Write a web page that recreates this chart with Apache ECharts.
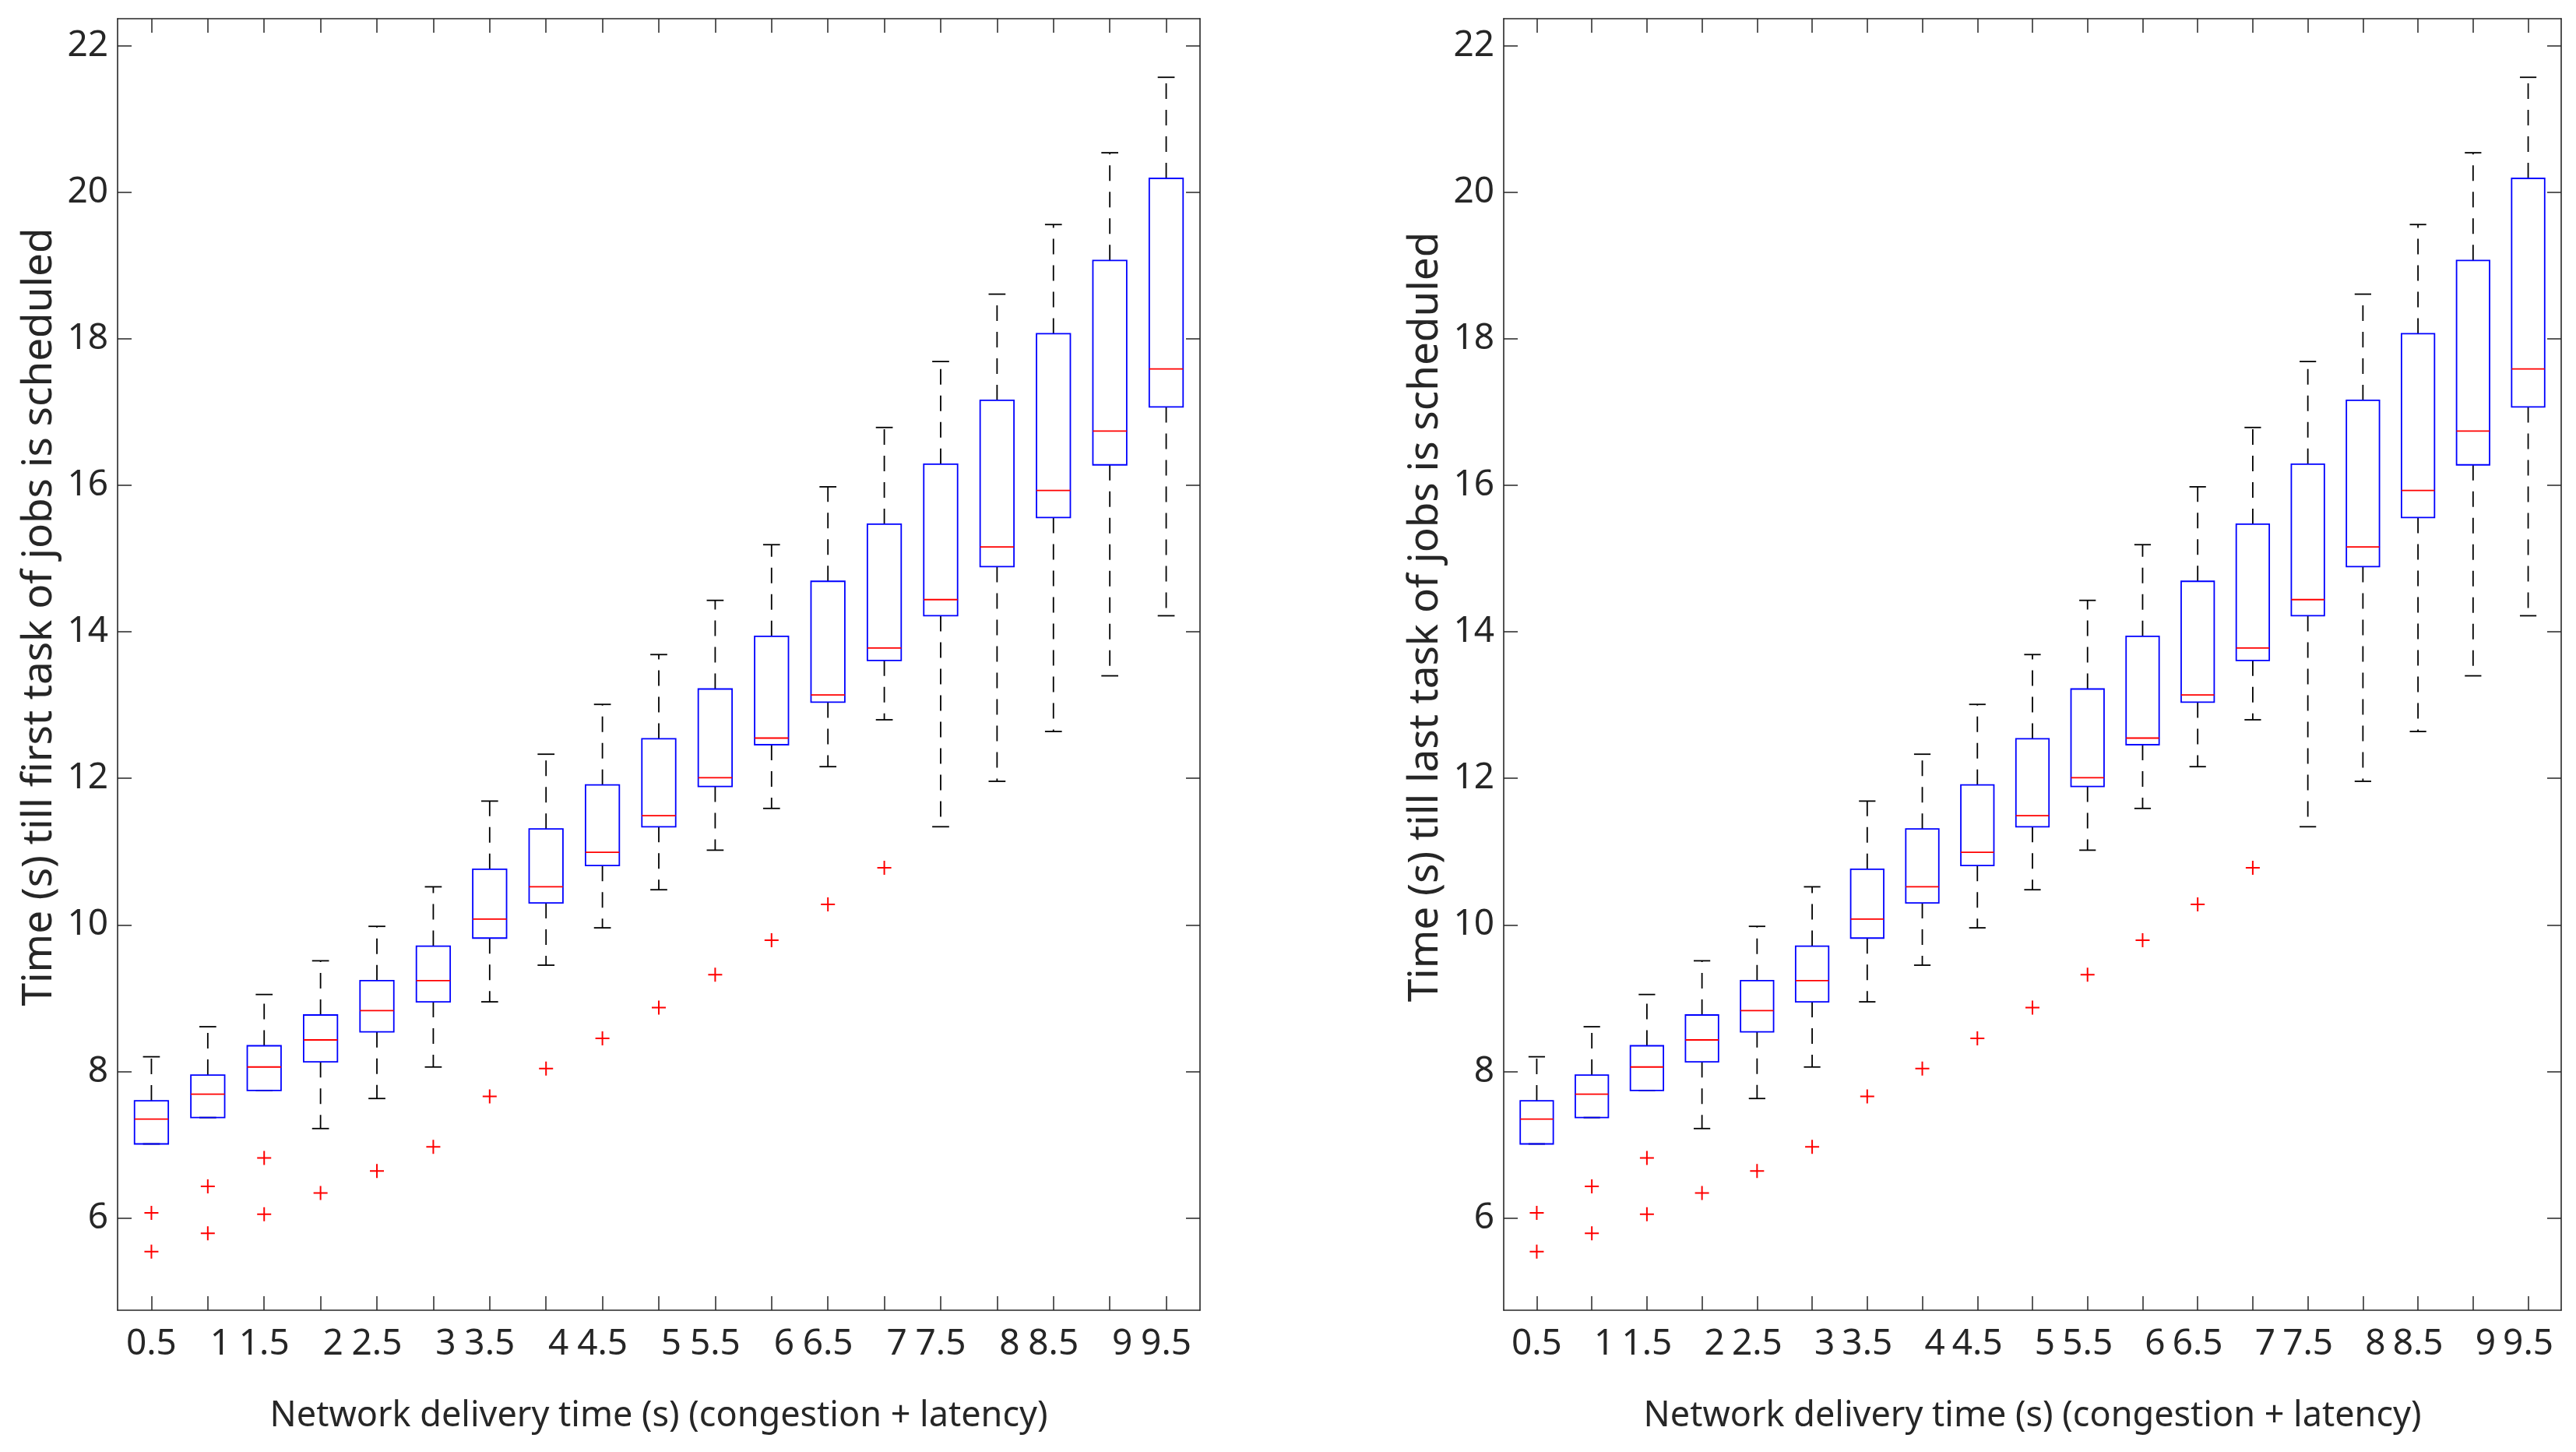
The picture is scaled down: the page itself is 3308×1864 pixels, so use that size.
<!DOCTYPE html>
<html>
<head>
<meta charset="utf-8">
<script src="https://cdn.jsdelivr.net/npm/echarts@6/dist/echarts.min.js"></script>
<style>
html,body{margin:0;padding:0;background:#fff;}
#chart{width:3308px;height:1864px;}
</style>
</head>
<body>
<div id="chart"></div>
<script>
// ---- data ----
const positions = [0.5,1,1.5,2,2.5,3,3.5,4,4.5,5,5.5,6,6.5,7,7.5,8,8.5,9,9.5];
const xLabels = ['0.5','1','1.5','2','2.5','3','3.5','4','4.5','5','5.5','6','6.5','7','7.5','8','8.5','9','9.5'];
const yTicks = [6,8,10,12,14,16,18,20,22];
const lowerWhisker = [7.01,7.37,7.74,7.22,7.63,8.06,8.95,9.45,9.96,10.48,11.02,11.59,12.16,12.80,11.34,11.96,12.64,13.40,14.22];
const q1 = [7.01,7.37,7.74,8.13,8.54,8.95,9.82,10.30,10.81,11.34,11.89,12.46,13.04,13.61,14.22,14.89,15.56,16.28,17.07];
const medians = [7.35,7.69,8.06,8.43,8.83,9.24,10.08,10.52,10.99,11.49,12.01,12.55,13.14,13.78,14.44,15.16,15.93,16.74,17.59];
const q3 = [7.60,7.95,8.35,8.77,9.24,9.71,10.76,11.31,11.91,12.54,13.22,13.94,14.69,15.47,16.29,17.16,18.07,19.07,20.19];
const upperWhisker = [8.20,8.61,9.05,9.51,9.98,10.52,11.69,12.33,13.01,13.69,14.43,15.19,15.98,16.79,17.69,18.61,19.56,20.54,21.57];
const outlierX = [0.5,0.5,1,1,1.5,1.5,2,2.5,3,3.5,4,4.5,5,5.5,6,6.5,7];
const outlierY = [6.07,5.54,6.43,5.79,6.82,6.05,6.34,6.64,6.97,7.66,8.04,8.45,8.87,9.32,9.79,10.28,10.78];
const yTitles = ['Time (s) till first task of jobs is scheduled','Time (s) till last task of jobs is scheduled'];
const xTitle = 'Network delivery time (s) (congestion + latency)';

// ---- build ----
const AX = '#262626';
const FONT = 'Noto Sans';
const boxData = positions.map((p,i)=>[p, lowerWhisker[i], q1[i], medians[i], q3[i], upperWhisker[i]]);
const outData = outlierX.map((x,i)=>[x, outlierY[i]]);

function renderBox(params, api){
  const x = api.value(0);
  const lw = api.value(1), a = api.value(2), m = api.value(3), b = api.value(4), uw = api.value(5);
  const boxW = api.size([0.3, 0])[0];
  const capW = boxW/2;
  const pLW = api.coord([x, lw]), pA = api.coord([x, a]), pM = api.coord([x, m]), pB = api.coord([x, b]), pUW = api.coord([x, uw]);
  const cx = pA[0];
  const children = [];
  const dash = {stroke:'#000', lineWidth:1.8, lineDash:[20,14]};
  const solid = {stroke:'#000', lineWidth:1.8};
  if (pLW[1] - pA[1] > 0.5) children.push({type:'line', shape:{x1:cx,y1:pA[1],x2:cx,y2:pLW[1]}, style:dash});
  children.push({type:'line', shape:{x1:cx,y1:pB[1],x2:cx,y2:pUW[1]}, style:dash});
  children.push({type:'line', shape:{x1:cx-capW/2,y1:pLW[1],x2:cx+capW/2,y2:pLW[1]}, style:solid});
  children.push({type:'line', shape:{x1:cx-capW/2,y1:pUW[1],x2:cx+capW/2,y2:pUW[1]}, style:solid});
  children.push({type:'rect', shape:{x:cx-boxW/2, y:pB[1], width:boxW, height:pA[1]-pB[1]}, style:{fill:'none', stroke:'#0000ff', lineWidth:1.8}});
  children.push({type:'line', shape:{x1:cx-boxW/2,y1:pM[1],x2:cx+boxW/2,y2:pM[1]}, style:{stroke:'#ff0000', lineWidth:1.8}});
  return {type:'group', children};
}

const grids = [
  {left:151, right:1767, top:24, bottom:182},
  {left:1931, right:19, top:24, bottom:182}
];
const xAxes = [], yAxes = [], series = [];
grids.forEach((g, gi)=>{
  xAxes.push({
    type:'value', gridIndex:gi, position:'bottom', min:0.2, max:9.8,
    axisLine:{show:true, onZero:false, lineStyle:{color:AX, width:1.6}},
    axisTick:{show:true, inside:true, length:18, customValues:positions, lineStyle:{color:AX, width:1.5}},
    axisLabel:{show:true, customValues:positions, margin:21, color:AX, fontFamily:FONT, fontSize:46,
      formatter:(v)=>{ const i = positions.indexOf(v); const s = i>=0 ? xLabels[i] : ''; return s.indexOf('.')<0 ? '{i|'+s+'}' : s; },
      rich:{i:{fontFamily:FONT, fontSize:46, color:AX, padding:[0,0,0,32]}}},
    splitLine:{show:false},
    name:xTitle, nameLocation:'middle', nameGap:114,
    nameTextStyle:{color:AX, fontFamily:FONT, fontSize:45}
  });
  xAxes.push({
    type:'value', gridIndex:gi, position:'top', min:0.2, max:9.8,
    axisLine:{show:true, onZero:false, lineStyle:{color:AX, width:1.6}},
    axisTick:{show:true, inside:true, length:18, customValues:positions, lineStyle:{color:AX, width:1.5}},
    axisLabel:{show:false}, splitLine:{show:false}
  });
  yAxes.push({
    type:'value', gridIndex:gi, position:'left', min:4.74, max:22.37,
    axisLine:{show:true, onZero:false, lineStyle:{color:AX, width:1.6}},
    axisTick:{show:true, inside:true, length:18, customValues:yTicks, lineStyle:{color:AX, width:1.5}},
    axisLabel:{show:true, customValues:yTicks, margin:12, color:AX, fontFamily:FONT, fontSize:46},
    splitLine:{show:false},
    name:yTitles[gi], nameLocation:'middle', nameGap:74,
    nameTextStyle:{color:AX, fontFamily:FONT, fontSize:53, padding:[0,0,0,122]}
  });
  yAxes.push({
    type:'value', gridIndex:gi, position:'right', min:4.74, max:22.37,
    axisLine:{show:true, onZero:false, lineStyle:{color:AX, width:1.6}},
    axisTick:{show:true, inside:true, length:18, customValues:yTicks, lineStyle:{color:AX, width:1.5}},
    axisLabel:{show:false}, splitLine:{show:false}
  });
  series.push({
    type:'custom', xAxisIndex:gi*2, yAxisIndex:gi*2, data:boxData, renderItem:renderBox, silent:true, animation:false, clip:false,
    encode:{x:0, y:[1,2,3,4,5]}
  });
  series.push({
    type:'scatter', xAxisIndex:gi*2, yAxisIndex:gi*2, data:outData, silent:true, animation:false,
    symbol:'path://M8,0H10V18H8Z M0,8H18V10H0Z', symbolSize:18,
    itemStyle:{color:'#ff0000', opacity:1}
  });
});

const chart = echarts.init(document.getElementById('chart'), null, {renderer:'canvas'});
chart.setOption({
  backgroundColor:'#ffffff',
  animation:false,
  grid:grids,
  xAxis:xAxes,
  yAxis:yAxes,
  series:series
});
</script>
</body>
</html>
